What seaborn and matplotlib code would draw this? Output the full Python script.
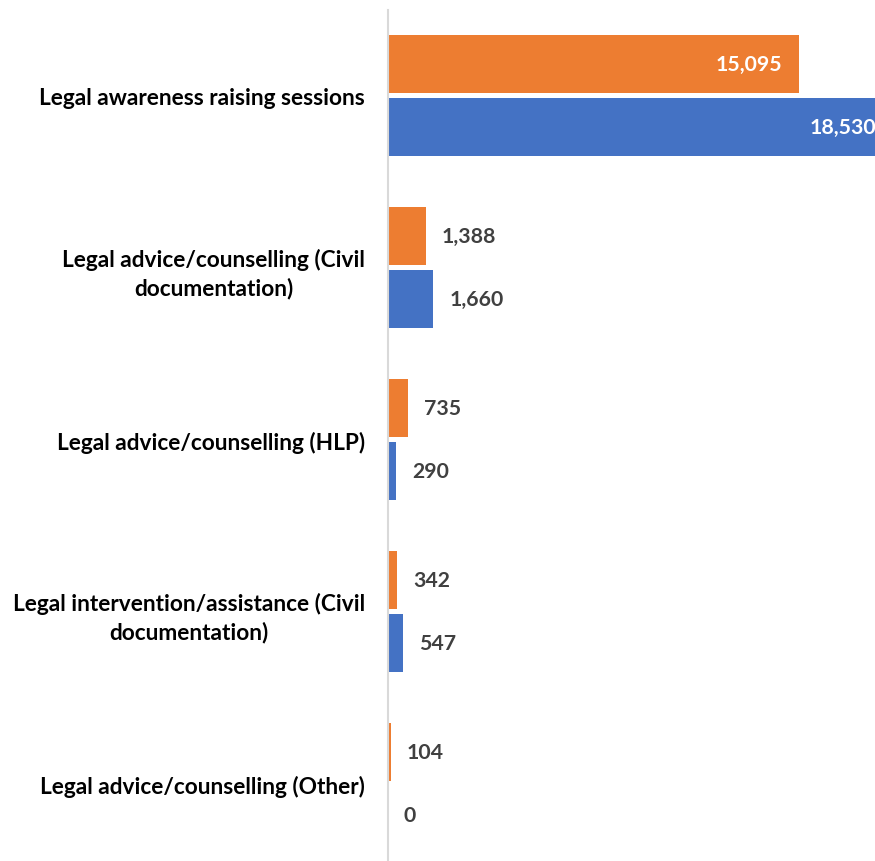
import matplotlib
matplotlib.use("Agg")
import matplotlib.pyplot as plt
import seaborn as sns
import pandas as pd

categories = [
    "Legal awareness raising sessions",
    "Legal advice/counselling (Civil\ndocumentation)",
    "Legal advice/counselling (HLP)",
    "Legal intervention/assistance (Civil\ndocumentation)",
    "Legal advice/counselling (Other)",
]
series_names = ["Series 1", "Series 2"]
series1_values = [15095, 1388, 735, 342, 104]
series2_values = [18530, 1660, 290, 547, 0]
colors = ["#ED7D31", "#4472C4"]

rows = []
for c, v in zip(categories, series1_values):
    rows.append({"category": c, "series": series_names[0], "value": v})
for c, v in zip(categories, series2_values):
    rows.append({"category": c, "series": series_names[1], "value": v})
df = pd.DataFrame(rows)

sns.set_theme(style="white")
plt.rcParams["font.family"] = ["Lato", "DejaVu Sans"]

W, H = 875, 862
fig = plt.figure(figsize=(W / 100, H / 100), dpi=100)
ax_left = 388 / W
ax_top = 1 - 10.5 / H
ax_bottom = 1 - 870.5 / H
ax = fig.add_axes([ax_left, ax_bottom, 1 - ax_left, ax_top - ax_bottom])

sns.barplot(data=df, y="category", x="value", hue="series", order=categories,
            hue_order=series_names, palette=colors, orient="h", saturation=1,
            width=0.735, gap=0.0744, linewidth=0, ax=ax, legend=False)

ax.set_xlim(0, 17900)
ax.set_ylim(len(categories) - 0.5, -0.5)
ax.set_xlabel("")
ax.set_ylabel("")
ax.set_xticks([])
for s in ["top", "right", "bottom"]:
    ax.spines[s].set_visible(False)
ax.spines["left"].set_color("#d9d9d9")
ax.spines["left"].set_linewidth(1.5)
ax.tick_params(axis="y", length=0, pad=16.5)
for lab in ax.get_yticklabels():
    lab.set_fontsize(16.3)
    lab.set_fontweight("bold")
    lab.set_color("#000000")
    lab.set_multialignment("center")
    lab.set_linespacing(1.4)

for container in ax.containers:
    for patch in container:
        v = patch.get_width()
        y = patch.get_y() + patch.get_height() / 2
        txt = f"{int(round(v)):,}"
        if v > 5000:
            ax.annotate(txt, (v, y), xytext=(-11.5, 0), textcoords="offset points",
                        ha="right", va="center", fontsize=15.3, fontweight="bold",
                        color="white", annotation_clip=False)
        else:
            ax.annotate(txt, (v, y), xytext=(11.5, 0), textcoords="offset points",
                        ha="left", va="center", fontsize=15.3, fontweight="bold",
                        color="#404040", annotation_clip=False)

fig.savefig("out.png", dpi=100)
